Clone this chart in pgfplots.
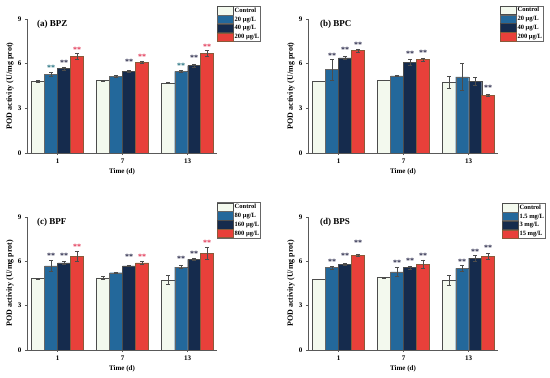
\documentclass[border=0pt]{standalone}
\usepackage{fontspec}
\setmainfont{Liberation Serif}
\usepackage{pgfplots}
\usepackage{pgfplotstable}
\pgfplotsset{compat=1.18}

\definecolor{cctrl}{HTML}{F3F9EE}
\definecolor{c1}{HTML}{23689B}
\definecolor{c2}{HTML}{152B4D}
\definecolor{c3}{HTML}{E8403A}
\definecolor{c3e}{HTML}{8A5A3A}
\definecolor{s1}{HTML}{1B6B7A}
\definecolor{s2}{HTML}{222244}
\definecolor{s3}{HTML}{E03050}

\pgfplotstableread{
x c ce a ae b be d de
1 4.82 0.05 5.29 0.15 5.67 0.10 6.50 0.20
2 4.87 0.03 5.16 0.05 5.49 0.05 6.10 0.05
3 4.71 0.03 5.49 0.08 5.87 0.08 6.70 0.20
}\tA
\pgfplotstableread{
x c ce a ae b be d de
1 4.82 0.03 5.60 0.68 6.39 0.10 6.90 0.10
2 4.89 0.03 5.18 0.05 6.10 0.20 6.28 0.10
3 4.73 0.40 5.11 0.90 4.82 0.25 3.88 0.05
}\tB
\pgfplotstableread{
x c ce a ae b be d de
1 4.84 0.03 5.70 0.35 5.90 0.10 6.35 0.35
2 4.89 0.10 5.23 0.05 5.70 0.05 5.90 0.10
3 4.73 0.30 5.61 0.10 6.13 0.05 6.53 0.40
}\tC
\pgfplotstableread{
x c ce a ae b be d de
1 4.80 0.02 5.59 0.10 5.81 0.05 6.40 0.05
2 4.91 0.05 5.29 0.30 5.59 0.10 5.81 0.30
3 4.73 0.35 5.52 0.20 6.22 0.20 6.33 0.20
}\tD

\tikzset{ttl/.style={anchor=west, font=\fontsize{9}{10}\selectfont\bfseries}}

\pgfplotsset{
 panel/.style={
   scale only axis, width=190pt, height=134pt,
   ybar, bar width=0.2,
   xmin=0.53, xmax=3.45, ymin=0, ymax=9,
   xtick={1,2,3}, xticklabels={1,7,13}, ytick={0,3,6,9},
   axis x line*=bottom, axis y line*=left,
   axis line style={draw=black!65, line width=0.5pt},
   tick align=outside, major tick length=2pt,
   tick style={draw=black!65, line width=0.5pt},
   tick label style={font=\fontsize{7}{8}\selectfont\bfseries},
   /pgf/number format/assume math mode=true,
   xlabel={Time (d)}, ylabel={POD activity (U/mg prot)},
   xlabel style={font=\fontsize{7}{8}\selectfont\bfseries, at={(axis description cs:0.5,-0.14)}, anchor=center},
   ylabel style={font=\fontsize{8}{9}\selectfont\bfseries, at={(axis description cs:-0.09,0.5)}, anchor=center},
   legend cell align=left,
   legend style={draw=black!60, line width=0.4pt, inner sep=0pt, row sep=0pt,
     font=\fontsize{6.5}{7}\selectfont\bfseries, anchor=north west,
     nodes={inner xsep=1pt, inner ysep=0pt, text height=5.8pt, text depth=2.6pt},
     /tikz/every even column/.append style={column sep=1.5pt}},
 },
 leg/.style={legend image code/.code={\draw[##1] (0pt,-4.2pt) rectangle (16pt,4.2pt);}},
 eb/.style={error bars/.cd, y dir=both, y explicit,
   error bar style={draw=black!70, line width=0.4pt},
   error mark options={rotate=90, mark size=2pt, draw=black!70, line width=0.4pt}},
 ctrl/.style={fill=cctrl, draw=black!70, line width=0.4pt, bar shift=-0.3, leg, eb},
 gA/.style={fill=c1, draw=black!60, line width=0.4pt, bar shift=-0.1, leg, eb},
 gB/.style={fill=c2, draw=black!70, line width=0.4pt, bar shift=0.1, leg, eb},
 gC/.style={fill=c3, draw=c3e, line width=0.5pt, bar shift=0.3, leg, eb},
 star/.style={draw=none, fill=none, forget plot, bar shift=#1,
   point meta=explicit symbolic, nodes near coords,
   every node near coord/.append style={anchor=center, yshift=-1.3pt,
     font=\fontsize{8}{8}\selectfont\bfseries, inner sep=0pt}},
}

\begin{document}
\begin{tikzpicture}
\path[use as bounding box] (0,0) rectangle (550pt,378pt);

% (a)
\begin{axis}[panel, at={(27pt,225pt)}, anchor=south west,
  legend style={at={(axis description cs:1.0,1.097)}}]
\addplot[ctrl] table[x=x,y=c,y error=ce]\tA;
\addplot[gA] table[x=x,y=a,y error=ae]\tA;
\addplot[gB] table[x=x,y=b,y error=be]\tA;
\addplot[gC] table[x=x,y=d,y error=de]\tA;
\legend{Control, 20 μg/L, 40 μg/L, 200 μg/L}
\addplot[star=-0.1, every node near coord/.append style={text=s1}] coordinates {(1,5.83)[**] (3,5.94)[**]};
\addplot[star=0.1, every node near coord/.append style={text=s2}] coordinates {(1,6.12)[**] (2,6.23)[**] (3,6.46)[**]};
\addplot[star=0.3, every node near coord/.append style={text=s3}] coordinates {(1,7.02)[**] (2,6.55)[**] (3,7.2)[**]};
\node[ttl] at (rel axis cs:0.035,0.96) {(a) BPZ};
\end{axis}

% (b)
\begin{axis}[panel, at={(308pt,225pt)}, anchor=south west,
  legend style={at={(axis description cs:1.01,1.10)}}]
\addplot[ctrl] table[x=x,y=c,y error=ce]\tB;
\addplot[gA] table[x=x,y=a,y error=ae]\tB;
\addplot[gB] table[x=x,y=b,y error=be]\tB;
\addplot[gC] table[x=x,y=d,y error=de]\tB;
\legend{Control, 20 μg/L, 40 μg/L, 200 μg/L}
\addplot[star=-0.1, every node near coord/.append style={text=s2}] coordinates {(1,6.61)[**]};
\addplot[star=0.1, every node near coord/.append style={text=s2}] coordinates {(1,7.02)[**] (2,6.73)[**]};
\addplot[star=0.3, every node near coord/.append style={text=s2}] coordinates {(1,7.35)[**] (2,6.79)[**] (3,4.48)[**]};
\node[ttl] at (rel axis cs:0.045,0.96) {(b) BPC};
\end{axis}

% (c)
\begin{axis}[panel, height=133pt, at={(27pt,28pt)}, anchor=south west,
  legend style={at={(axis description cs:1.0,1.11)}}]
\addplot[ctrl] table[x=x,y=c,y error=ce]\tC;
\addplot[gA] table[x=x,y=a,y error=ae]\tC;
\addplot[gB] table[x=x,y=b,y error=be]\tC;
\addplot[gC] table[x=x,y=d,y error=de]\tC;
\legend{Control, 80 μg/L, 160 μg/L, 800 μg/L}
\addplot[star=-0.1, every node near coord/.append style={text=s2}] coordinates {(1,6.44)[**] (3,6.26)[**]};
\addplot[star=0.1, every node near coord/.append style={text=s2}] coordinates {(1,6.44)[**] (2,6.42)[**] (3,6.6)[**]};
\addplot[star=0.3, every node near coord/.append style={text=s3}] coordinates {(1,7.09)[**] (2,6.42)[**] (3,7.32)[**]};
\node[ttl] at (rel axis cs:0.035,0.96) {(c) BPF};
\end{axis}

% (d)
\begin{axis}[panel, height=133pt, at={(308pt,28pt)}, anchor=south west,
  legend style={at={(axis description cs:1.02,1.105)}}]
\addplot[ctrl] table[x=x,y=c,y error=ce]\tD;
\addplot[gA] table[x=x,y=a,y error=ae]\tD;
\addplot[gB] table[x=x,y=b,y error=be]\tD;
\addplot[gC] table[x=x,y=d,y error=de]\tD;
\legend{Control, 1.5 mg/L, 3 mg/L, 15 mg/L}
\addplot[star=-0.1, every node near coord/.append style={text=s2}] coordinates {(1,6.04)[**] (2,5.97)[**] (3,6.08)[**]};
\addplot[star=0.1, every node near coord/.append style={text=s2}] coordinates {(1,6.49)[**] (2,6.15)[**] (3,6.76)[**]};
\addplot[star=0.3, every node near coord/.append style={text=s2}] coordinates {(1,7.32)[**] (2,6.44)[**] (3,7.0)[**]};
\node[ttl] at (rel axis cs:0.045,0.96) {(d) BPS};
\end{axis}
\end{tikzpicture}
\end{document}
